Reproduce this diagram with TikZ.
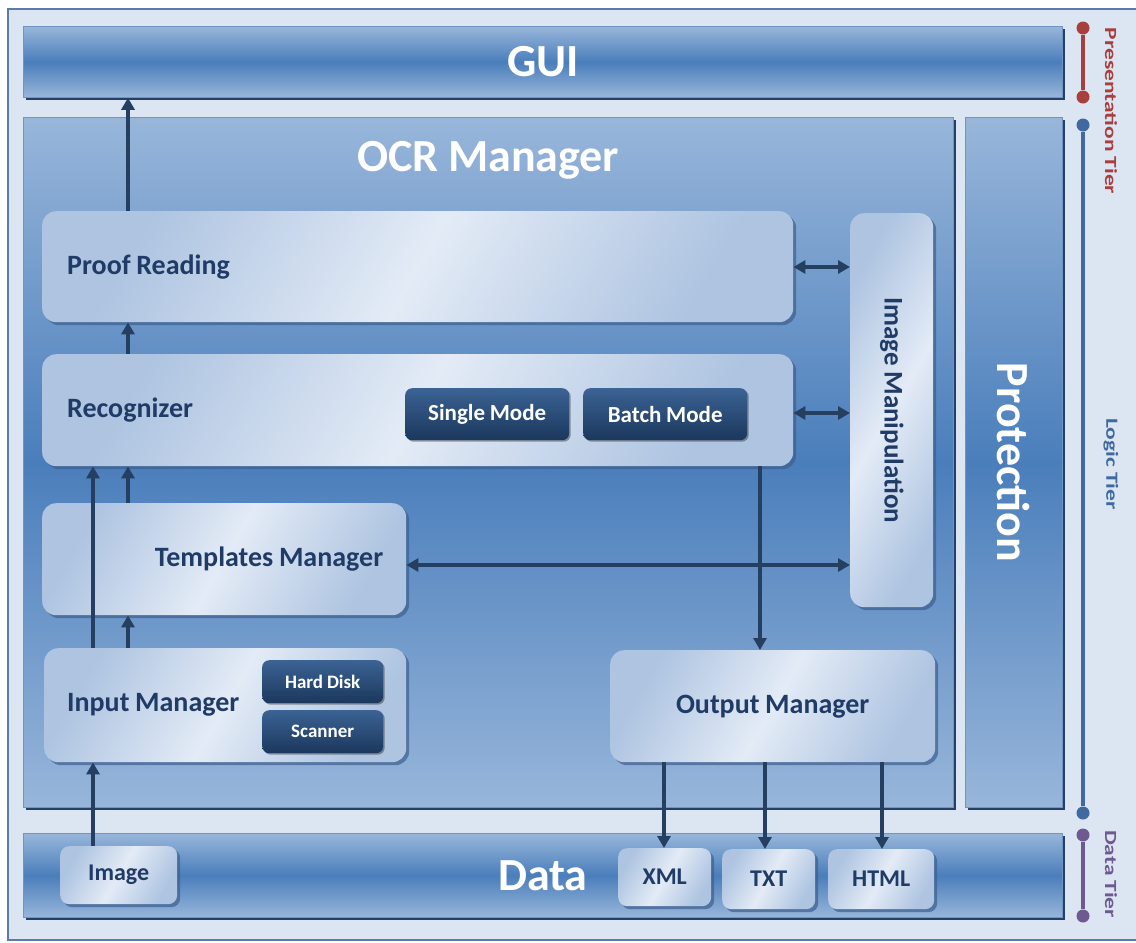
\documentclass[tikz,border=0pt]{standalone}
\usepackage{fontspec}
\setmainfont{Carlito}[WordSpace=0.9]
\usetikzlibrary{shadows,arrows.meta}
\definecolor{frameBg}{HTML}{DCE6F2}
\definecolor{frameLine}{HTML}{5B7CA8}
\definecolor{barLight}{HTML}{98B6DA}
\definecolor{barDark}{HTML}{4A7EBB}
\definecolor{barEdge}{HTML}{6F94C6}
\definecolor{deepNavy}{HTML}{24406A}
\definecolor{boxLight}{HTML}{E3EBF6}
\definecolor{boxBlue}{HTML}{AEC4E1}
\definecolor{shadowC}{HTML}{3D5F8E}
\definecolor{navy}{HTML}{1F3B66}
\definecolor{arrowC}{HTML}{243F60}
\definecolor{darkTop}{HTML}{3B6394}
\definecolor{darkBot}{HTML}{1B375C}
\definecolor{presC}{HTML}{A83F3D}
\definecolor{logicC}{HTML}{3F69A0}
\definecolor{dataC}{HTML}{6E5A91}
\tikzset{
  bar/.style={anchor=north west, inner sep=0pt, top color=barLight, bottom color=barLight, middle color=barDark,
    draw=barEdge, line width=0.8pt, text=white, font=\fontsize{46}{50}\selectfont\bfseries,
    drop shadow={shadow xshift=3pt, shadow yshift=-3pt, fill=deepNavy, opacity=1}},
  lightbox/.style={anchor=north west, inner sep=0pt, rounded corners=14pt,
    top color=boxBlue, bottom color=boxBlue, middle color=boxLight, shading angle=60,
    text=navy, font=\fontsize{28}{32}\selectfont\bfseries,
    drop shadow={shadow xshift=3pt, shadow yshift=-3pt, fill=shadowC, opacity=0.7}},
  smallbox/.style={lightbox, rounded corners=9pt, font=\fontsize{24}{28}\selectfont\bfseries},
  darkbox/.style={anchor=north west, inner sep=0pt, rounded corners=7pt,
    top color=darkTop, bottom color=darkBot, text=white,
    drop shadow={shadow xshift=1.5pt, shadow yshift=-1.5pt, fill=black, opacity=0.35}},
  arr/.style={draw=arrowC, line width=3.2pt, -{Triangle[length=12pt,width=13pt]}},
  darr/.style={draw=arrowC, line width=3.2pt, {Triangle[length=12pt,width=13pt]}-{Triangle[length=12pt,width=13pt]}},
  tierdot/.style={circle, inner sep=0pt, minimum size=13pt},
  tierlabel/.style={inner sep=0pt, font=\fontsize{17}{19}\selectfont\bfseries}
}
\begin{document}
\begin{tikzpicture}[x=1pt,y=-1pt]
\useasboundingbox (0,0) rectangle (1136,943);
% outer frame
\draw[fill=frameBg, draw=frameLine, line width=1.5pt] (8,9) rectangle (1150,940);

% tiers
\node[bar, minimum width=1039pt, minimum height=71pt] (gui) at (23,26) {GUI};
\node[bar, minimum width=930pt, minimum height=690pt,
  label={[anchor=center, yshift=-43pt, text=white, font=\fontsize{46}{50}\selectfont\bfseries]north:OCR Manager}] (ocr) at (23,117) {};
\node[bar, minimum width=97pt, minimum height=690pt] (prot) at (965,117) {\rotatebox{-90}{Protection}};
\node[bar, minimum width=1039pt, minimum height=84pt] (data) at (23,833) {Data};

% OCR manager components
\node[lightbox, minimum width=751pt, minimum height=111pt, text width=701pt, align=flush left, inner xsep=25pt] (pr) at (42,211) {Proof Reading};
\node[lightbox, minimum width=751pt, minimum height=112pt, text width=701pt, align=flush left, inner xsep=25pt] (rec) at (42,354) {Recognizer};
\node[darkbox, minimum width=164pt, minimum height=52pt, font=\fontsize{23}{26}\selectfont\bfseries] (single) at (405,388) {Single Mode};
\node[darkbox, minimum width=164pt, minimum height=52pt, font=\fontsize{23}{26}\selectfont\bfseries] (batch) at (583,388) {Batch Mode};
\node[lightbox, minimum width=364pt, minimum height=112pt, text width=318pt, align=flush right, inner xsep=23pt] (tm) at (42,503) {Templates Manager};
\node[lightbox, minimum width=362pt, minimum height=114pt, text width=316pt, align=flush left, inner xsep=23pt] (inp) at (44,648) {Input Manager};
\node[darkbox, minimum width=121pt, minimum height=43pt, font=\fontsize{19}{21}\selectfont\bfseries] (hd) at (262,660) {Hard Disk};
\node[darkbox, minimum width=121pt, minimum height=43pt, font=\fontsize{19}{21}\selectfont\bfseries] (sc) at (262,710) {Scanner};
\node[lightbox, minimum width=325pt, minimum height=112pt] (om) at (610,650) {Output Manager};
\node[lightbox, minimum width=83pt, minimum height=394pt, font=\fontsize{27}{30}\selectfont\bfseries] (imgm) at (850,213) {\rotatebox{-90}{Image Manipulation}};

% data items
\node[smallbox, minimum width=117pt, minimum height=58pt] (img) at (60,846) {Image};
\node[smallbox, minimum width=93pt, minimum height=58pt] (xml) at (618,848) {XML};
\node[smallbox, minimum width=93pt, minimum height=60pt] (txt) at (722,849) {TXT};
\node[smallbox, minimum width=106pt, minimum height=60pt] (html) at (828,849) {HTML};

% helper columns / rows
\coordinate (cA) at (93,0);
\coordinate (cB) at (128,0);
\coordinate (cR) at (760,0);
\coordinate (cX) at (664,0);
\coordinate (cT) at (765,0);
\coordinate (cH) at (882,0);
\coordinate (rP) at (0,267);
\coordinate (rR) at (0,413);
\coordinate (rT) at (0,565);

% connectors
\draw[arr] (pr.north -| cB) -- (gui.south -| cB);
\draw[arr] (rec.north -| cB) -- (pr.south -| cB);
\draw[arr] (tm.north -| cB) -- (rec.south -| cB);
\draw[arr] (inp.north -| cB) -- (tm.south -| cB);
\draw[arr] (inp.north -| cA) -- (rec.south -| cA);
\draw[arr] (img.north -| cA) -- (inp.south -| cA);
\draw[darr] (pr.east |- rP) -- (imgm.west |- rP);
\draw[darr] (rec.east |- rR) -- (imgm.west |- rR);
\draw[darr] (tm.east |- rT) -- (imgm.west |- rT);
\draw[arr] (rec.south -| cR) -- (om.north -| cR);
\draw[arr] (om.south -| cX) -- (xml.north -| cX);
\draw[arr] (om.south -| cT) -- (txt.north -| cT);
\draw[arr] (om.south -| cH) -- (html.north -| cH);

% tier markers
\node[tierdot, fill=presC] (p1) at (1083,28) {};
\node[tierdot, fill=presC] (p2) at (1083,97) {};
\draw[presC, line width=3.2pt] (p1) -- (p2);
\node[tierdot, fill=logicC] (l1) at (1083,125) {};
\node[tierdot, fill=logicC] (l2) at (1083,813) {};
\draw[logicC, line width=3.2pt] (l1) -- (l2);
\node[tierdot, fill=dataC] (d1) at (1083,835) {};
\node[tierdot, fill=dataC] (d2) at (1083,916) {};
\draw[dataC, line width=3.2pt] (d1) -- (d2);
\node[tierlabel, text=presC] (tp) at (1111,111) {\rotatebox{-90}{\scalebox{1.38}[1]{Presentation Tier}}};
\node[tierlabel, text=logicC] (tl) at (1111,464) {\rotatebox{-90}{\scalebox{1.38}[1]{Logic Tier}}};
\node[tierlabel, text=dataC] (td) at (1111,874) {\rotatebox{-90}{\scalebox{1.38}[1]{Data Tier}}};
\end{tikzpicture}
\end{document}
